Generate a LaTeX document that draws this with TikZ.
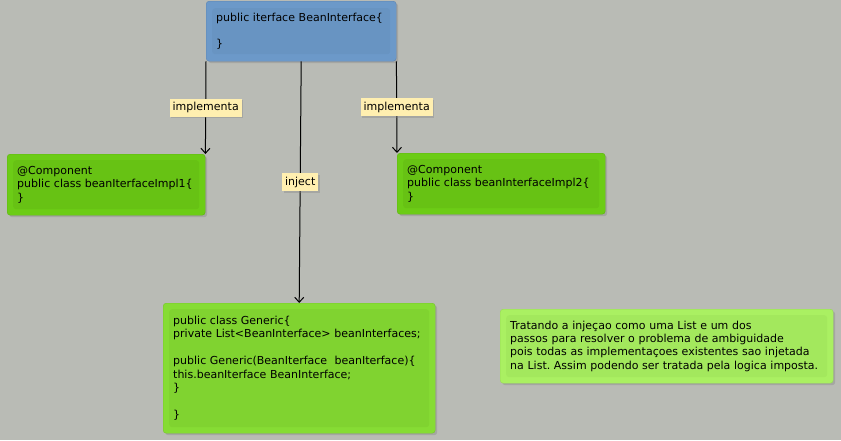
\documentclass[tikz,border=0pt]{standalone}
\usepackage{fontspec}
\setmainfont{DejaVu Sans}
\frenchspacing
\hyphenpenalty=10000
\usetikzlibrary{arrows.meta,shadows}
\definecolor{bgc}{RGB}{185,187,181}
\definecolor{blueo}{RGB}{108,153,201}
\definecolor{bluei}{RGB}{104,148,194}
\definecolor{blueb}{RGB}{92,132,178}
\definecolor{g1o}{RGB}{108,204,22}
\definecolor{g1i}{RGB}{103,194,20}
\definecolor{g1b}{RGB}{94,180,18}
\definecolor{g2o}{RGB}{134,220,52}
\definecolor{g2i}{RGB}{128,211,48}
\definecolor{g2b}{RGB}{118,198,42}
\definecolor{g3o}{RGB}{170,240,98}
\definecolor{g3i}{RGB}{163,232,93}
\definecolor{g3b}{RGB}{152,218,86}
\definecolor{labc}{RGB}{255,239,176}
\begin{document}
\begin{tikzpicture}[x=1pt,y=-1pt,
  font=\fontsize{11pt}{13.4pt}\selectfont,
  box/.style={anchor=north west, rounded corners=3pt, inner xsep=10pt, inner ysep=0pt,
    align=left, drop shadow={shadow xshift=2pt,shadow yshift=-2pt,opacity=0.35}},
  bluebox/.style={box, fill=blueo, draw=blueb, path picture={\fill[bluei]
    ([shift={(6pt,-7pt)}]path picture bounding box.north west) rectangle
    ([shift={(-6pt,7pt)}]path picture bounding box.south east);}},
  g1box/.style={box, fill=g1o, draw=g1b, path picture={\fill[g1i]
    ([shift={(6pt,-6pt)}]path picture bounding box.north west) rectangle
    ([shift={(-6pt,6pt)}]path picture bounding box.south east);}},
  g2box/.style={box, fill=g2o, draw=g2b, path picture={\fill[g2i]
    ([shift={(6pt,-6pt)}]path picture bounding box.north west) rectangle
    ([shift={(-6pt,6pt)}]path picture bounding box.south east);}},
  g3box/.style={box, fill=g3o, draw=g3b, path picture={\fill[g3i]
    ([shift={(6pt,-6pt)}]path picture bounding box.north west) rectangle
    ([shift={(-6pt,6pt)}]path picture bounding box.south east);}},
  lab/.style={fill=labc, inner xsep=3pt, inner ysep=3.5pt,
    drop shadow={shadow xshift=1.5pt,shadow yshift=-1.5pt,opacity=0.35}},
  arr/.style={draw=black, line width=1pt, -{Straight Barb[length=5pt,width=9pt]}}]
\fill[bgc] (0,0) rectangle (841,440);
\useasboundingbox (0,0) rectangle (841,440);

\node[bluebox, text width=170pt, minimum height=60pt] (top) at (206,1)
  {public iterface BeanInterface\{\\[13.4pt]\}};
\node[g1box, text width=178pt, minimum height=61pt] (impl1) at (7,154)
  {@Component\\public class beanIterfaceImpl1\{\\\}};
\node[g1box, text width=188pt, minimum height=61pt] (impl2) at (397,153)
  {@Component\\public class beanInterfaceImpl2\{\\\}};
\node[g2box, text width=252pt, minimum height=130pt] (gen) at (163,303)
  {public class Generic\{\\private List<BeanInterface> beanInterfaces;\\[13.4pt]public Generic(BeanIterface\ \ beanIterface)\{\\this.beanIterface BeanInterface;\\\}\\[13.4pt]\}};
\node[g3box, text width=313pt, minimum height=74pt] (note) at (500,309)
  {Tratando a injeçao como uma List e um dos\\passos para resolver o problema de ambiguidade\\pois todas as implementaçoes existentes sao injetada\\na List. Assim podendo ser tratada pela logica imposta.};

\draw[arr] (top.south west) -- node[lab] (l1) {implementa} (impl1.north east);
\draw[arr] (top.south) -- node[lab] (l2) {inject} (gen.north);
\draw[arr] (top.south east) -- node[lab] (l3) {implementa} (impl2.north west);
\end{tikzpicture}
\end{document}
